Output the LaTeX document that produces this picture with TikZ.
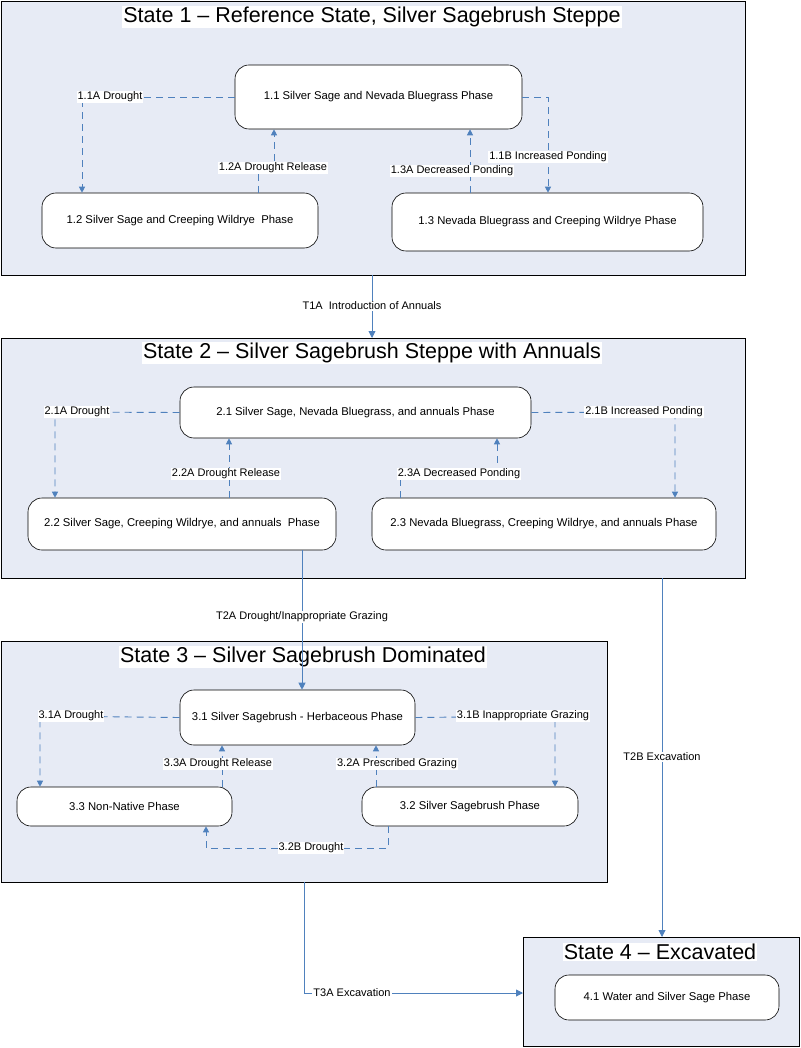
\documentclass[tikz,border=0pt]{standalone}
\usepackage{fontspec}
\setmainfont{Liberation Sans}
\usetikzlibrary{arrows.meta}
\definecolor{statefill}{RGB}{231,235,245}
\definecolor{arrowblue}{RGB}{79,129,189}
\begin{document}
\begin{tikzpicture}
[x=1pt,y=-1pt,
state/.style={draw=black,fill=statefill,line width=0.8pt},
title/.style={fill=white,inner sep=1pt,font=\fontsize{21.5}{23}\selectfont},
phase/.style={draw=black,fill=white,rounded corners=14pt,line width=0.6pt,font=\fontsize{11.3}{13}\selectfont,inner sep=0pt},
lab/.style={fill=white,inner sep=1pt,font=\fontsize{11}{13}\selectfont},
pathway/.style={draw=arrowblue,dash pattern=on 7pt off 5pt,line width=0.9pt,-{Triangle[length=6pt,width=6pt]}},
trans/.style={draw=arrowblue,line width=0.9pt,-{Triangle[length=7pt,width=7pt]}}]
\useasboundingbox (0,0) rectangle (800,1048);

% states
\draw [state] (1,1) rectangle (745,275);
\draw [state] (1,338) rectangle (745,578);
\draw [state] (1,641) rectangle (607,882);
\draw [state] (523,937) rectangle (799,1046);
\node [title] (s1) at (372,17) {State 1 – Reference State, Silver Sagebrush Steppe};
\node [title] (s2) at (372,353) {State 2 – Silver Sagebrush Steppe with Annuals};
\node [title] (s3) at (303,657) {State 3 – Silver Sagebrush Dominated};
\node [title] (s4) at (660,952) {State 4 – Excavated};
\coordinate (s1b) at (372,275);
\coordinate (s2t) at (372,338);
\coordinate (s2b) at (662,578);
\coordinate (s3b) at (304,882);
\coordinate (s4t) at (662,937);
\coordinate (s4w) at (523,993);

% phases
\node [phase,minimum width=287pt,minimum height=64pt] (p11) at (378.5,97) {1.1 Silver Sage and Nevada Bluegrass Phase};
\node [phase,minimum width=276pt,minimum height=55pt] (p12) at (180,220.5) {1.2 Silver Sage and Creeping Wildrye\ \ Phase};
\node [phase,minimum width=311pt,minimum height=58pt] (p13) at (547.5,222) {1.3 Nevada Bluegrass and Creeping Wildrye Phase};
\node [phase,minimum width=351pt,minimum height=51pt] (p21) at (355.5,412.5) {2.1 Silver Sage, Nevada Bluegrass, and annuals Phase};
\node [phase,minimum width=308pt,minimum height=52pt] (p22) at (182,524) {2.2 Silver Sage, Creeping Wildrye, and annuals\ \ Phase};
\node [phase,minimum width=344pt,minimum height=52pt] (p23) at (544,524) {2.3 Nevada Bluegrass, Creeping Wildrye, and annuals Phase};
\node [phase,minimum width=235pt,minimum height=55pt] (p31) at (297.5,717.5) {3.1 Silver Sagebrush - Herbaceous Phase};
\node [phase,minimum width=215pt,minimum height=39pt] (p33) at (124.5,806.5) {3.3 Non-Native Phase};
\node [phase,minimum width=216pt,minimum height=39pt] (p32) at (470,806.5) {3.2 Silver Sagebrush Phase};
\node [phase,minimum width=224pt,minimum height=45pt] (p41) at (667,997.5) {4.1 Water and Silver Sage Phase};

% state 1 pathways
\draw [pathway] (p11.west) -- (82,97) -- (p12.north -| 82,0);
\node [lab] (l11a) at (110,97) {1.1A Drought};
\draw [pathway] (p12.north -| 258,0) -- (258,168) -| (p11.south -| 274,0);
\node [lab] (l12a) at (273,168) {1.2A Drought Release};
\draw [pathway] (p11.east) -- (548,97) -- (p13.north -| 548,0);
\node [lab] (l11b) at (548,157) {1.1B Increased Ponding};
\draw [pathway] (p13.north -| 470,0) -- (p11.south -| 470,0);
\node [lab] (l13a) at (452,171) {1.3A Decreased Ponding};
\draw [trans] (s1b) -- (s2t);
\node [lab] (t1a) at (372,306) {T1A\ \ Introduction of Annuals};

% state 2 pathways
\draw [pathway] (p21.west) -- (55,412) -- (p22.north -| 55,0);
\node [lab] (l21a) at (77,412) {2.1A Drought};
\draw [pathway] (p22.north -| 229,0) -- (p21.south -| 229,0);
\node [lab] (l22a) at (226,474) {2.2A Drought Release};
\draw [pathway] (p23.north -| 400,0) -- (400,474) -| (p21.south -| 497,0);
\node [lab] (l23a) at (459,474) {2.3A Decreased Ponding};
\draw [pathway] (p21.east) -- (675,412) -- (p23.north -| 675,0);
\node [lab] (l21b) at (644,412) {2.1B Increased Ponding};
\draw [trans] (p22.south -| 302,0) -- (p31.north -| 302,0);
\node [lab] (t2a) at (302,617) {T2A Drought/Inappropriate Grazing};
\draw [trans] (s2b) -- (s4t);
\node [lab] (t2b) at (662,757) {T2B Excavation};

% state 3 pathways
\draw [pathway] (p31.west) -- (40,716) -- (p33.north -| 40,0);
\node [lab] (l31a) at (71,716) {3.1A Drought};
\draw [pathway] (p31.east) -- (555,716) -- (p32.north -| 555,0);
\node [lab] (l31b) at (523,716) {3.1B Inappropriate Grazing};
\draw [pathway] (p33.north -| 222,0) -- (p31.south -| 222,0);
\node [lab] (l33a) at (218,764) {3.3A Drought Release};
\draw [pathway] (p32.north -| 376,0) -- (p31.south -| 376,0);
\node [lab] (l32a) at (397,764) {3.2A Prescribed Grazing};
\draw [pathway] (p32.south -| 388,0) -- (388,848) -- (206,848) -- (p33.south -| 206,0);
\node [lab] (l32b) at (311,848) {3.2B Drought};
\draw [trans] (s3b) -- (304,993) -- (s4w);
\node [lab] (t3a) at (352,993) {T3A Excavation};
\end{tikzpicture}
\end{document}
